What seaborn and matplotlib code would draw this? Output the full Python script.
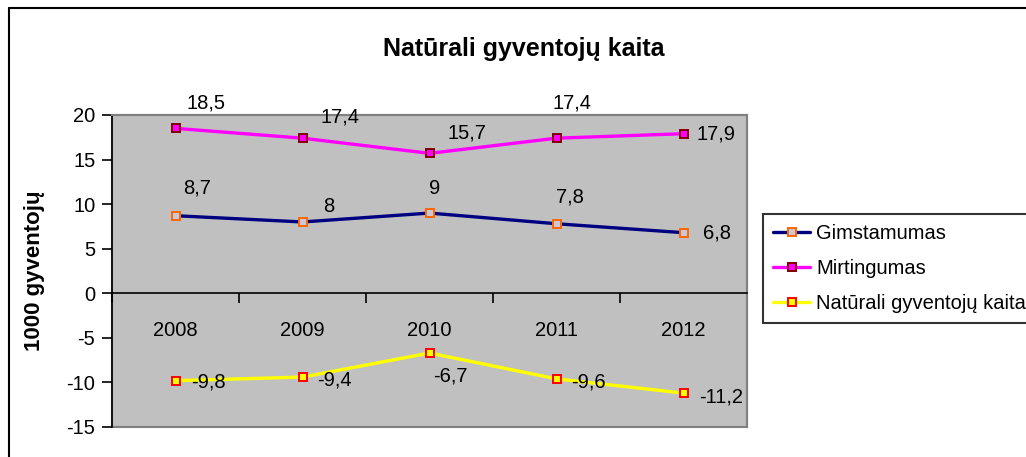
import pandas as pd
import numpy as np
import matplotlib.pyplot as plt
import seaborn as sns
from matplotlib.patches import Rectangle
from matplotlib.lines import Line2D

years = ['2008', '2009', '2010', '2011', '2012']
gimstamumas = [8.7, 8.0, 9.0, 7.8, 6.8]
mirtingumas = [18.5, 17.4, 15.7, 17.4, 17.9]
naturali = [-9.8, -9.4, -6.7, -9.6, -11.2]
series_names = ['Gimstamumas', 'Mirtingumas', 'Natūrali gyventojų kaita']
y_ticks = [-15, -10, -5, 0, 5, 10, 15, 20]

# label offsets (pixels, x right / y down) - labels in the source were nudged by hand
off_gim = [(22, -28), (26, -15), (5, -25), (13, -27), (33, 0)]
off_mir = [(31, -25), (38, -21), (37, -20), (15, -35), (33, 0)]
off_nat = [(33, 1), (32, 3), (21, 23), (32, 3), (38, 4)]

sns.set_style('white')
plt.rcParams['font.family'] = ['Liberation Sans', 'DejaVu Sans']
plt.rcParams['axes.unicode_minus'] = False
for k in ['text.color', 'axes.labelcolor', 'xtick.color', 'ytick.color']:
    plt.rcParams[k] = 'black'

fig = plt.figure(figsize=(10.26, 4.57), dpi=100)
ax = fig.add_axes([112 / 1026, 1 - 427 / 457, 635 / 1026, 312 / 457])
ax.set_facecolor('#C0C0C0')

styles = [
    dict(color='#000080', mec='#FF6600', mfc='#C8C8D8'),
    dict(color='#FF00FF', mec='#800000', mfc='#FF00FF'),
    dict(color='#FFFF00', mec='#FF0000', mfc='#FFFF00'),
]
values = [gimstamumas, mirtingumas, naturali]
offsets = [off_gim, off_mir, off_nat]

df = pd.DataFrame({'year': years})
for name, vals, st, offs in zip(series_names, values, styles, offsets):
    df[name] = vals
    sns.lineplot(data=df, x='year', y=name, ax=ax, color=st['color'], lw=2.4,
                 marker='s', markersize=5.5, markeredgecolor=st['mec'],
                 markerfacecolor=st['mfc'], markeredgewidth=1.4, label=name,
                 legend=False, zorder=3)
    for i, v in enumerate(vals):
        txt = f'{v:g}'.replace('.', ',')
        dx, dy = offs[i]
        ax.annotate(txt, (i, v), xytext=(dx, -dy), textcoords='offset pixels',
                    ha='center', va='center', fontsize=14.5, color='black', zorder=4)

ax.set_xlim(-0.5, len(years) - 0.5)
ax.set_ylim(-15, 20)
ax.set_yticks(y_ticks)
ax.tick_params(axis='y', which='major', direction='out', length=7, width=1.2,
               color='black', labelsize=14.5, pad=5, left=True)

# x axis sits on the zero line
ax.spines['bottom'].set_position(('data', 0))
ax.spines['bottom'].set_color('black')
ax.spines['bottom'].set_linewidth(1.2)
ax.spines['left'].set_color('black')
ax.spines['left'].set_linewidth(1.2)
for s in ['top', 'right']:
    ax.spines[s].set_color('#808080')
    ax.spines[s].set_linewidth(1.5)
ax.set_xticks(np.arange(len(years) + 1) - 0.5)
ax.set_xticklabels([])
ax.set_xticks(np.arange(len(years)), minor=True)
ax.set_xticklabels(years, minor=True)
ax.tick_params(axis='x', which='major', direction='out', length=7, width=1.2,
               color='black', bottom=True)
ax.tick_params(axis='x', which='minor', length=0, labelsize=14.5, pad=20)
ax.add_patch(Rectangle((0, 0), 1, 1, transform=ax.transAxes, fill=False,
                       edgecolor='#808080', lw=1.5, clip_on=False, zorder=0.5))

ax.set_xlabel('')
ax.set_ylabel('1000 gyventojų', fontsize=16, fontweight='bold')
ax.yaxis.set_label_coords(-0.1055, 0.5)

fig.text(524 / 1026, 1 - 56 / 457, 'Natūrali gyventojų kaita', ha='center',
         va='baseline', fontsize=18, fontweight='bold')

handles, labels = ax.get_legend_handles_labels()
leg = fig.legend(handles, labels, loc='upper left',
                 bbox_to_anchor=(763 / 1026, 1 - 214 / 457), fontsize=14.5,
                 frameon=True, fancybox=False, handlelength=1.85,
                 handletextpad=0.3, labelspacing=0.8, borderpad=0.5,
                 borderaxespad=0)
leg.get_frame().set_edgecolor('black')
leg.get_frame().set_linewidth(1.5)

# outer chart frame
fig.add_artist(Line2D([9 / 1026, 9 / 1026], [0, 1 - 8 / 457], color='black', lw=1.5))
fig.add_artist(Line2D([9 / 1026, 1], [1 - 8 / 457, 1 - 8 / 457], color='black', lw=1.5))

fig.savefig('out.png', dpi=100)
